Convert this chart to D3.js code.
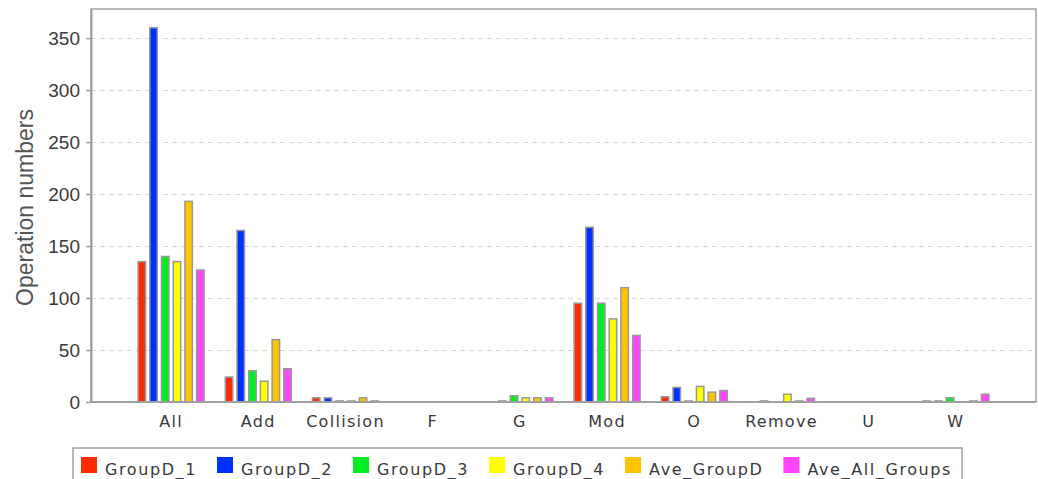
<!DOCTYPE html>
<html>
<head>
<meta charset="utf-8">
<script src="https://cdn.jsdelivr.net/npm/d3@7"></script>
<style>
  body { margin: 0; background: #fff; }
  svg { display: block; }
</style>
</head>
<body>
<div id="chart"></div>
<script>
// Chart data (null = no bar)
const categories = ["All", "Add", "Collision", "F", "G", "Mod", "O", "Remove", "U", "W"];
const seriesNames = ["GroupD_1", "GroupD_2", "GroupD_3", "GroupD_4", "Ave_GroupD", "Ave_All_Groups"];
const groupD1 = [135, 24, 4, null, null, 95, 5, null, null, 1];
const groupD2 = [360, 165, 4, null, 1, 168, 14, 1, null, 1];
const groupD3 = [140, 30, 1, null, 6, 95, 1, null, null, 4];
const groupD4 = [135, 20, 1, null, 4, 80, 15, 7.5, null, null];
const aveGroupD = [193, 60, 4, null, 4, 110, 9.5, 1, null, 1];
const aveAllGroups = [127, 32, 1, null, 4, 64, 11, 3.5, null, 7.5];
const yTicks = [0, 50, 100, 150, 200, 250, 300, 350];

const seriesValues = [groupD1, groupD2, groupD3, groupD4, aveGroupD, aveAllGroups];
const colors = ["#ff2a00", "#0030ff", "#00ee22", "#ffff00", "#ffc400", "#ff44ff"];

const W = 1038, H = 479;
const plot = { left: 91, right: 1036, top: 9, bottom: 402 };

const svg = d3.select("#chart").append("svg")
    .attr("width", W)
    .attr("height", H);

// Scales
const x = d3.scaleBand()
    .domain(categories)
    .range([plot.left, plot.right])
    .paddingInner(0.243)
    .paddingOuter(0.54);

const xSub = d3.scaleBand()
    .domain(seriesNames)
    .range([0, x.bandwidth()])
    .paddingInner(0.36)
    .paddingOuter(0);

const y = d3.scaleLinear()
    .domain([0, 378])
    .range([plot.bottom, plot.top]);

// Grid lines
svg.append("g")
    .selectAll("line")
    .data(yTicks.filter(d => d > 0))
    .enter()
    .append("line")
    .attr("x1", plot.left)
    .attr("x2", plot.right)
    .attr("y1", d => y(d) + 0.5)
    .attr("y2", d => y(d) + 0.5)
    .attr("stroke", "#d8d8d8")
    .attr("stroke-dasharray", "5,4");

// Plot border
svg.append("rect")
    .attr("x", plot.left)
    .attr("y", plot.top)
    .attr("width", plot.right - plot.left)
    .attr("height", plot.bottom - plot.top)
    .attr("fill", "none")
    .attr("stroke", "#a0a0a0")
    .attr("stroke-width", 1.5);

// Bars
const rows = [];
seriesValues.forEach((vals, s) => {
    vals.forEach((v, i) => {
        if (v !== null) rows.push({ cat: categories[i], series: seriesNames[s], value: v, color: colors[s] });
    });
});

svg.append("g")
    .selectAll("rect")
    .data(rows)
    .enter()
    .append("rect")
    .attr("x", d => x(d.cat) + xSub(d.series))
    .attr("width", xSub.bandwidth())
    .attr("y", d => y(d.value))
    .attr("height", d => y(0) - y(d.value))
    .attr("fill", d => d.color)
    .attr("stroke", "#999")
    .attr("stroke-width", 1.5);

// Y axis
const yAxis = svg.append("g")
    .attr("transform", "translate(" + plot.left + ",0)")
    .call(d3.axisLeft(y).tickValues(yTicks).tickSize(5).tickPadding(6).tickSizeOuter(0));
yAxis.select(".domain").attr("stroke", "#a0a0a0").attr("stroke-width", 2);
yAxis.selectAll(".tick line").attr("stroke", "#a0a0a0").attr("stroke-width", 1.5);
yAxis.selectAll("text")
    .style("font-family", "Liberation Sans, Arial, sans-serif")
    .style("font-size", "19px")
    .attr("fill", "#3a3a3a");

// X axis line
svg.append("line")
    .attr("x1", plot.left)
    .attr("x2", plot.right)
    .attr("y1", plot.bottom)
    .attr("y2", plot.bottom)
    .attr("stroke", "#a0a0a0")
    .attr("stroke-width", 2);

// Category labels
svg.append("g")
    .selectAll("text")
    .data(categories)
    .enter()
    .append("text")
    .attr("x", d => x(d) + x.bandwidth() / 2)
    .attr("y", 427)
    .attr("text-anchor", "middle")
    .style("font-family", "DejaVu Sans, sans-serif")
    .style("font-size", "16px")
    .style("letter-spacing", "1.3px")
    .attr("fill", "#3a3a3a")
    .text(d => d);

// Y axis title
svg.append("text")
    .attr("transform", "translate(33," + ((plot.top + plot.bottom) / 2 + 2) + ") rotate(-90)")
    .attr("text-anchor", "middle")
    .style("font-family", "Liberation Sans, Arial, sans-serif")
    .style("font-size", "23px")
    .attr("fill", "#555")
    .text("Operation numbers");

// Legend
const legend = svg.append("g");
const legendBox = legend.append("rect")
    .attr("y", 448)
    .attr("height", 40)
    .attr("fill", "#fff")
    .attr("stroke", "#a0a0a0")
    .attr("stroke-width", 1.5);

let lx = 81;
seriesNames.forEach((name, i) => {
    legend.append("rect")
        .attr("x", lx)
        .attr("y", 457)
        .attr("width", 16)
        .attr("height", 16)
        .attr("fill", colors[i]);
    const t = legend.append("text")
        .attr("x", lx + 24)
        .attr("y", 475)
        .style("font-family", "DejaVu Sans, sans-serif")
        .style("font-size", "16px")
        .style("letter-spacing", "1.6px")
        .attr("fill", "#3a3a3a")
        .text(name);
    lx = lx + 24 + t.node().getComputedTextLength() + 20;
});
legendBox.attr("x", 73).attr("width", lx - 20 + 10 - 73);
</script>
</body>
</html>
